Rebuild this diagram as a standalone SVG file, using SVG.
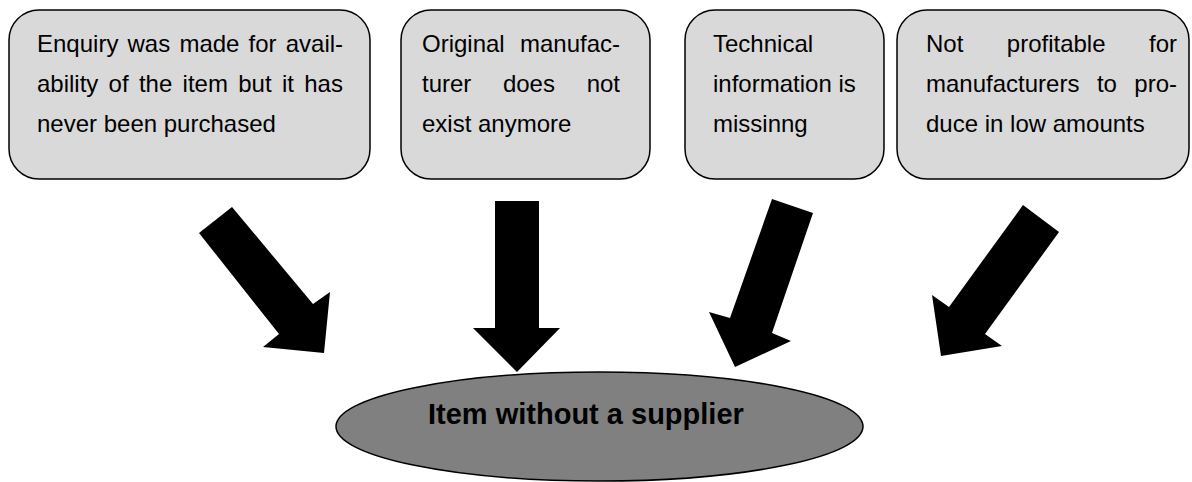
<svg xmlns="http://www.w3.org/2000/svg" width="1192" height="482" viewBox="0 0 1192 482">
  <style>
    .box { fill: #d9d9d9; stroke: #000; stroke-width: 1.5; }
    .t { font-family: "Liberation Sans", Arial, sans-serif; font-size: 24px; fill: #000; }
    .title { font-family: "Liberation Sans", Arial, sans-serif; font-size: 29px; font-weight: bold; fill: #000; }
    .ell { fill: #808080; stroke: #000; stroke-width: 1.5; }
    .arrow { fill: #000; stroke: none; }
  </style>
  <rect width="1192" height="482" fill="#fff"/>
  <g id="node-enquiry">
    <rect class="box" x="9" y="10" width="361" height="169" rx="30" ry="30"/>
    <text class="t" y="52"><tspan x="37">Enquiry</tspan><tspan x="127.5">was</tspan><tspan x="179.4">made</tspan><tspan x="248.5">for</tspan><tspan x="285.7">avail-</tspan></text>
    <text class="t" y="92"><tspan x="37">ability</tspan><tspan x="108.6">of</tspan><tspan x="138.9">the</tspan><tspan x="182.6">item</tspan><tspan x="238.2">but</tspan><tspan x="281.9">it</tspan><tspan x="304.2">has</tspan></text>
    <text class="t" x="37" y="132">never been purchased</text>
  </g>
  <g id="node-original">
    <rect class="box" x="401" y="10" width="249" height="169" rx="30" ry="30"/>
    <text class="t" y="52"><tspan x="422">Original</tspan><tspan x="620" text-anchor="end">manufac-</tspan></text>
    <text class="t" y="92"><tspan x="422">turer</tspan><tspan x="502.9">does</tspan><tspan x="620" text-anchor="end">not</tspan></text>
    <text class="t" x="422" y="132">exist anymore</text>
  </g>
  <g id="node-technical">
    <rect class="box" x="685" y="10" width="199" height="169" rx="30" ry="30"/>
    <text class="t" x="713" y="52">Technical</text>
    <text class="t" x="713" y="92">information is</text>
    <text class="t" x="713" y="132">missinng</text>
  </g>
  <g id="node-profitable">
    <rect class="box" x="897" y="10" width="292" height="169" rx="30" ry="30"/>
    <text class="t" y="52"><tspan x="926">Not</tspan><tspan x="1006.8">profitable</tspan><tspan x="1177" text-anchor="end">for</tspan></text>
    <text class="t" y="92"><tspan x="926">manufacturers</tspan><tspan x="1096.9">to</tspan><tspan x="1177" text-anchor="end">pro-</tspan></text>
    <text class="t" x="926" y="132">duce in low amounts</text>
  </g>
  <g id="node-item">
    <ellipse class="ell" cx="599.5" cy="426.5" rx="263.5" ry="54.5"/>
    <text class="title" x="428" y="424">Item without a supplier</text>
  </g>
  <g id="connectors">
    <polygon class="arrow" points="199,233 232,207 313,304 330,292 324,353 263,347 279,334"/>
    <polygon class="arrow" points="495,201 539,201 539,328 560,328 517,372 473,328 495,328"/>
    <polygon class="arrow" points="772,199 813,213 772,333 791,341 735,367 709,312 730,318"/>
    <polygon class="arrow" points="1023,205 1059,232 985,334 1002,346 941,356 932,295 949,307"/>
  </g>
</svg>
